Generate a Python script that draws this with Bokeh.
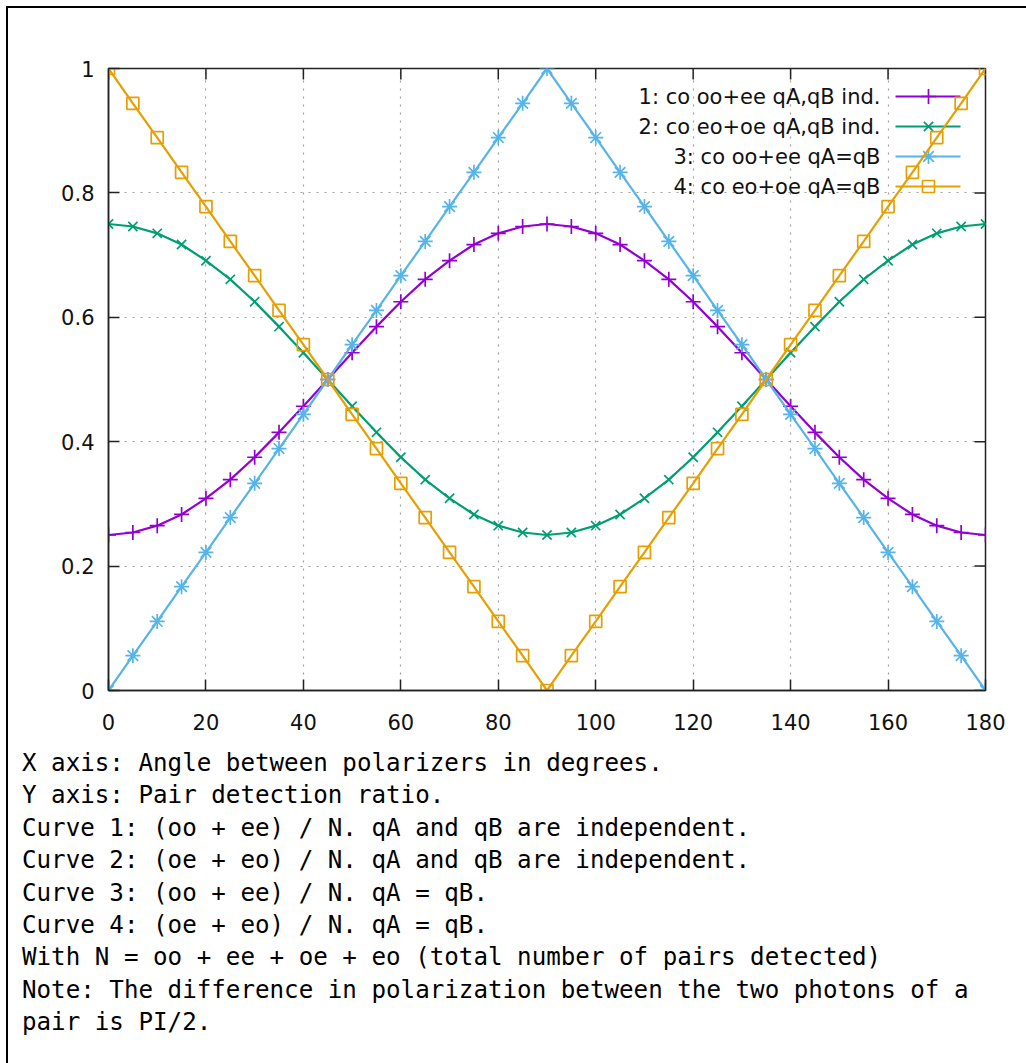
from bokeh.plotting import figure
from bokeh.models import Range1d, FixedTicker, Label, Div
from bokeh.layouts import column, row
from bokeh.embed import file_html
from bokeh.resources import INLINE

angles = [0, 5, 10, 15, 20, 25, 30, 35, 40, 45, 50, 55, 60, 65, 70, 75, 80, 85, 90,
          95, 100, 105, 110, 115, 120, 125, 130, 135, 140, 145, 150, 155, 160, 165, 170, 175, 180]

curve1 = [0.25, 0.254, 0.265, 0.283, 0.309, 0.339, 0.375, 0.415, 0.457, 0.5, 0.543, 0.585, 0.625,
          0.661, 0.691, 0.717, 0.735, 0.746, 0.75, 0.746, 0.735, 0.717, 0.691, 0.661, 0.625, 0.585,
          0.543, 0.5, 0.457, 0.415, 0.375, 0.339, 0.309, 0.283, 0.265, 0.254, 0.25]
curve2 = [0.75, 0.746, 0.735, 0.717, 0.691, 0.661, 0.625, 0.585, 0.543, 0.5, 0.457, 0.415, 0.375,
          0.339, 0.309, 0.283, 0.265, 0.254, 0.25, 0.254, 0.265, 0.283, 0.309, 0.339, 0.375, 0.415,
          0.457, 0.5, 0.543, 0.585, 0.625, 0.661, 0.691, 0.717, 0.735, 0.746, 0.75]
curve3 = [0.0, 0.056, 0.111, 0.167, 0.222, 0.278, 0.333, 0.389, 0.444, 0.5, 0.556, 0.611, 0.667,
          0.722, 0.778, 0.833, 0.889, 0.944, 1.0, 0.944, 0.889, 0.833, 0.778, 0.722, 0.667, 0.611,
          0.556, 0.5, 0.444, 0.389, 0.333, 0.278, 0.222, 0.167, 0.111, 0.056, 0.0]
curve4 = [1.0, 0.944, 0.889, 0.833, 0.778, 0.722, 0.667, 0.611, 0.556, 0.5, 0.444, 0.389, 0.333,
          0.278, 0.222, 0.167, 0.111, 0.056, 0.0, 0.056, 0.111, 0.167, 0.222, 0.278, 0.333, 0.389,
          0.444, 0.5, 0.556, 0.611, 0.667, 0.722, 0.778, 0.833, 0.889, 0.944, 1.0]

series_names = ["1: co oo+ee qA,qB ind.", "2: co eo+oe qA,qB ind.",
                "3: co oo+ee qA=qB", "4: co eo+oe qA=qB"]

xticks = [0, 20, 40, 60, 80, 100, 120, 140, 160, 180]
xtick_labels = ["0", "20", "40", "60", "80", "100", "120", "140", "160", "180"]
yticks = [0, 0.2, 0.4, 0.6, 0.8, 1]
ytick_labels = ["0", "0.2", "0.4", "0.6", "0.8", "1"]

notes = [
    "X axis: Angle between polarizers in degrees.",
    "Y axis: Pair detection ratio.",
    "Curve 1: (oo + ee) / N. qA and qB are independent.",
    "Curve 2: (oe + eo) / N. qA and qB are independent.",
    "Curve 3: (oo + ee) / N. qA = qB.",
    "Curve 4: (oe + eo) / N. qA = qB.",
    "With N = oo + ee + oe + eo (total number of pairs detected)",
    "Note: The difference in polarization between the two photons of a",
    "pair is PI/2.",
]

# page geometry (absolute pixels in the window)
PAGE_W, PAGE_H = 1026, 1063
MARG, BW = 6, 2               # margin and page-border width
OFF = MARG + BW               # content offset
W = PAGE_W - OFF              # content width
FIG_H = 737
DIV_H = PAGE_H - OFF - FIG_H
FL, FR, FT, FB = 108 - OFF, 985 - OFF, 68 - OFF, 690 - OFF
XMIN, XMAX, YMIN, YMAX = 0, 180, 0, 1

p = figure(width=W, height=FIG_H, output_backend="svg", toolbar_location=None,
           x_range=Range1d(XMIN, XMAX), y_range=Range1d(YMIN, YMAX),
           min_border_left=FL, min_border_right=W - FR,
           min_border_top=FT, min_border_bottom=FIG_H - FB, margin=0)
p.background_fill_color = "white"
p.border_fill_color = "white"
p.outline_line_color = "#222222"
p.outline_line_width = 1.5

TICK_FONT = "DejaVu Sans"
for ax in [p.xaxis[0], p.yaxis[0]]:
    ax.major_tick_in = 11
    ax.major_tick_out = 0
    ax.minor_tick_line_color = None
    ax.major_tick_line_color = "#222222"
    ax.major_tick_line_width = 1.5
    ax.axis_line_color = "#222222"
    ax.axis_line_width = 1.5
    ax.major_label_text_font = TICK_FONT
    ax.major_label_text_font_size = "21px"
    ax.major_label_text_color = "#111111"

p.xaxis[0].ticker = FixedTicker(ticks=xticks)
p.xaxis[0].major_label_overrides = dict(zip(xticks, xtick_labels))
p.xaxis[0].major_label_standoff = 23
p.yaxis[0].ticker = FixedTicker(ticks=yticks)
p.yaxis[0].major_label_overrides = dict(zip(yticks, ytick_labels))
p.yaxis[0].major_label_standoff = 14

p.xgrid.ticker = FixedTicker(ticks=xticks)
p.ygrid.ticker = FixedTicker(ticks=yticks)
for g in [p.xgrid[0], p.ygrid[0]]:
    g.grid_line_color = "#a0a0a0"
    g.grid_line_dash = "2 6"
    g.grid_line_width = 1.2

# mirrored inward ticks on the top and right edges (from the tick arrays)
tick_dy = 11 / (FB - FT) * (YMAX - YMIN)
tick_dx = 11 / (FR - FL) * (XMAX - XMIN)
p.segment(x0=xticks, y0=[YMAX] * len(xticks), x1=xticks, y1=[YMAX - tick_dy] * len(xticks),
          line_color="#222222", line_width=1.5)
p.segment(x0=[XMAX] * len(yticks), y0=yticks, x1=[XMAX - tick_dx] * len(yticks), y1=yticks,
          line_color="#222222", line_width=1.5)

colors = ["#9400D3", "#009E73", "#56B4E9", "#E69F00"]
markers = ["cross", "x", "asterisk", "square"]
msizes = [15, 13, 15, 12]
all_series = [curve1, curve2, curve3, curve4]


def dx(px):
    return XMIN + (px - OFF - FL) / (FR - FL) * (XMAX - XMIN)


def dy(py):
    return YMIN + (FB - (py - OFF)) / (FB - FT) * (YMAX - YMIN)


legend_rows = [96, 126, 156, 186]
for i, (ys, c, m, ms) in enumerate(zip(all_series, colors, markers, msizes)):
    p.line(angles, ys, line_color=c, line_width=2.2)
    p.scatter(angles, ys, marker=m, size=ms, line_color=c, fill_color=None, line_width=1.7)
    # gnuplot-style key: text right-aligned, sample line + marker to the right
    ly = dy(legend_rows[i])
    p.line([dx(895), dx(960)], [ly, ly], line_color=c, line_width=2.2)
    p.scatter([dx(928)], [ly], marker=m, size=ms, line_color=c, fill_color=None, line_width=1.7)
    p.add_layout(Label(x=dx(880), y=ly, text=series_names[i], text_align="right",
                       text_baseline="middle", text_font=TICK_FONT, text_font_size="21px",
                       text_color="#111111"))

notes_html = "<br>".join(notes)
div = Div(text=notes_html, width=W, height=DIV_H, margin=0,
          styles={"font-family": "'DejaVu Sans Mono', monospace", "font-size": "24.2px",
                  "line-height": "32.4px", "white-space": "pre", "color": "#000000",
                  "padding-left": "14px", "padding-top": "2px"})

top_strip = Div(text="", width=PAGE_W - MARG, height=BW, margin=0,
                styles={"background-color": "black"})
left_strip = Div(text="", width=BW, height=PAGE_H - OFF, margin=0,
                 styles={"background-color": "black"})
content = column(p, div, spacing=0, margin=0)
layout = column(top_strip, row(left_strip, content, spacing=0, margin=0), spacing=0,
                margin=(MARG, 0, 0, MARG))

html = file_html(layout, INLINE)
html = html.replace("</head>", "<style>html, body { margin: 0; overflow: hidden; }</style></head>", 1)
open("out.html", "w").write(html)
